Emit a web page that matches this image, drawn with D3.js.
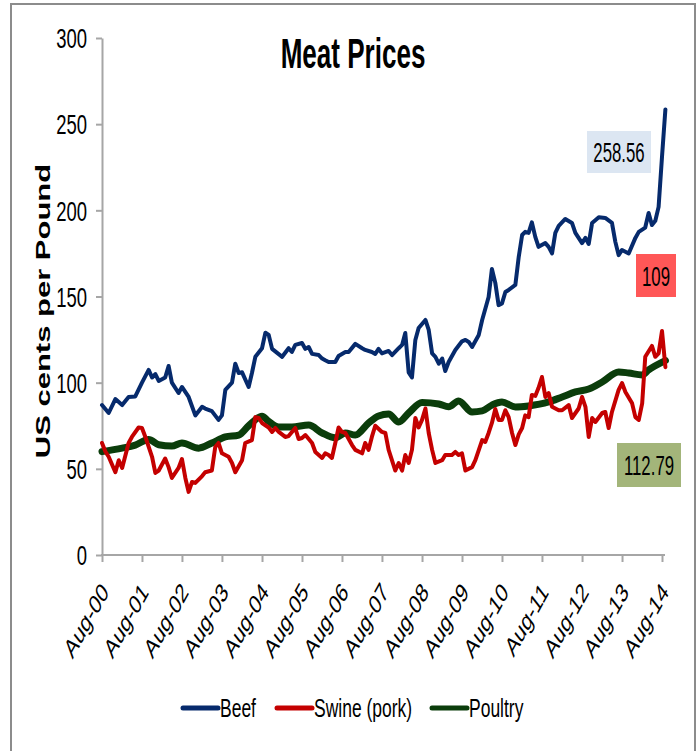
<!DOCTYPE html>
<html>
<head>
<meta charset="utf-8">
<script src="https://cdn.jsdelivr.net/npm/d3@7"></script>
<style>
  body { margin: 0; background: #fff; }
  svg { display: block; }
  text { font-family: "Liberation Sans", Arial, sans-serif; fill: #000; }
</style>
</head>
<body>
<div id="chart"></div>
<script>
// Meat prices, US cents per pound, monthly from Aug-00
// x values are months since Aug 2000
var beefMonth = [0,2,4,6,8,10,12,14,15,16,17,19,20,21,23,24,26,28,30,31,33,35,36,37,39,40,41,42,44,45,
  46,48,49,50,51,54,56,57,58,60,61,62,63,65,66,67,68,70,71,73,74,76,78,79,81,82,83,84,86,87,
  89,90,91,92,93,94,95,97,98,99,100,101,102,103,104,106,108,109,110,111,113,114,116,117,118,119,120,121,122,124,
  125,126,127,128,129,130,131,133,134,135,136,137,139,141,142,144,145,146,147,149,151,153,154,155,156,158,160,161,163,164,
  165,166,167,168,169];
var beefValue = [87,82.4,90.5,87,91.7,92,100,107.4,103,105,101,103,109.7,100,94,97.5,91.7,81,86,85,
  83.5,78.4,81,95.8,100,111,105.6,106,97.5,105.6,115,120,129,127.7,119.6,115,120,117.8,121.9,123,
  119.6,120.7,116.7,116,114,113,112,112,115.5,117.8,117.8,122.5,120,119,117.8,116.7,119.6,117,118.4,116,
  120,121.9,128.8,106,103,124.8,131.7,136.4,130.6,117,115,111,114,106.8,112,119,124,124.8,123.6,120.7,
  127.7,136.4,149.7,166,157.9,145,146,152.6,153.8,156.7,173,185.7,187.5,186.9,193,184.6,178.8,181,178.8,175,
  186.9,191,195,192.7,186.9,181,184,180.5,192.7,196,195.6,192.7,181.7,174,177,175,184,187.5,190,198.5,
  191.5,194,202,231,258.56];

var swineMonth = [0,1,2,4,5,6,8,9,11,12,13,15,16,17,19,20,21,23,24,25,26,27,28,30,31,33,34,35,36,38,
  39,40,42,43,45,46,47,48,50,51,52,53,55,56,58,59,60,61,63,64,66,67,68,69,70,71,72,73,75,76,
  78,79,80,81,82,84,85,86,88,89,90,91,92,93,94,95,96,97,98,99,100,102,103,105,106,107,108,109,111,112,
  114,115,116,117,118,119,120,121,122,123,124,125,126,127,128,129,130,131,132,133,134,135,137,138,140,141,143,144,145,146,
  147,148,150,151,152,153,155,156,157,159,160,161,162,163,165,166,167,168,169];
var swineValue = [65,60,57,48,55,50.5,65,68.5,74,73.7,68.5,57,47.6,49,56,51,44.7,50.5,55.7,44.7,
  36.6,42.4,41.8,45.8,48,49,62.7,65,59,57,53.4,48,55,65,66.7,80,79.5,76.6,74,71.4,
  73.7,71.4,68.5,69,73.7,67.3,67.9,69.6,65,59.8,56.3,59,58,56.3,65,74,71.4,70.8,63.8,61,
  59,65,61,68.5,75,71.4,70.8,61,49,53.4,49,58,53.4,61,79.5,74,78.4,85,70.8,61,
  53.4,55,58,58,59.8,58,59,49,51,55,66.7,65.6,70.8,76.6,84.7,78.4,78.4,84,80,70.8,
  63.8,70,73.7,81,80,92.9,92.3,97,103.3,91.7,94,86,84,84,87,79.5,85,91.7,86,68.5,
  79.5,77.2,82.4,83,73.7,83,95.8,99.8,94.6,88,80,78.4,88,115,121.3,115,117,130,109];

var poultryMonth = [0,6,10,14,17,21,24,29,33,37,41,44,48,50,53,57,62,66,70,73,
  76,80,83,86,89,92,96,101,104,107,111,114,117,120,124,128,134,138,142,146,150,155,158,162,164,169];
var poultryValue = [60,62,63.8,67,64,63.2,65,62,65,68.5,69.6,75,80.5,77.5,74.3,74.3,75.4,70.8,68,70.8,
  69.6,76.6,80.7,81.8,77.2,82.4,88.5,87.6,86,89.4,83,83.6,87,88.8,85.9,86.5,88.8,91.7,94.6,96.3,
  100.4,106.2,105.6,104.5,107.4,112.79];

var seriesNames = ["Beef", "Swine (pork)", "Poultry"];
var seriesColors = ["#062a6c", "#c40000", "#0b3d0b"];
var yTicks = [0, 50, 100, 150, 200, 250, 300];

var svgWidth = 699, svgHeight = 751;
var start = new Date(2000, 7, 1);
var sx = 0.66; // the original picture is squeezed sideways

var svg = d3.select("#chart").append("svg")
  .attr("width", svgWidth)
  .attr("height", svgHeight);

svg.append("rect")
  .attr("x", 11).attr("y", 4)
  .attr("width", 684).attr("height", 770)
  .attr("fill", "#fff")
  .attr("stroke", "#8c8c8c")
  .attr("stroke-width", 2);

var xScale = d3.scaleTime()
  .domain([start, new Date(2014, 7, 1)])
  .range([102, 662]);

var yScale = d3.scaleLinear()
  .domain([0, 300])
  .range([555, 38]);

// axes
var yAxis = d3.axisLeft(yScale).tickValues(yTicks).tickSize(6).tickSizeOuter(0);
var gy = svg.append("g")
  .attr("transform", "translate(102,0)")
  .call(yAxis);
gy.select(".domain").attr("stroke", "#a6a6a6").attr("stroke-width", 2);
gy.selectAll(".tick line").attr("stroke", "#a6a6a6").attr("stroke-width", 2);
gy.selectAll(".tick text")
  .attr("x", 0).attr("dy", "0.35em")
  .attr("font-size", 28)
  .attr("font-family", "Liberation Sans, Arial, sans-serif")
  .attr("transform", `translate(-15,0) scale(${sx},1)`);

var xTicks = d3.range(0, 15).map(function(i) { return new Date(2000 + i, 7, 1); });
var xAxis = d3.axisBottom(xScale).tickValues(xTicks).tickSize(7).tickSizeOuter(0)
  .tickFormat(d3.timeFormat("%b-%y"));
var gx = svg.append("g")
  .attr("transform", "translate(0,555)")
  .call(xAxis);
gx.select(".domain").attr("stroke", "#a6a6a6").attr("stroke-width", 2).attr("d", "M101,0H665");
gx.selectAll(".tick line").attr("stroke", "#a6a6a6").attr("stroke-width", 2);
gx.selectAll(".tick text")
  .attr("x", 0).attr("y", 0).attr("dy", 0)
  .attr("text-anchor", "end")
  .attr("font-size", 27)
  .attr("font-family", "Liberation Sans, Arial, sans-serif")
  .attr("transform", `translate(7,38) scale(${sx},1) rotate(-50)`);

// lines
var line = d3.line()
  .x(function(d) { return xScale(d3.timeMonth.offset(start, d[0])); })
  .y(function(d) { return yScale(d[1]); });

var series = [
  { months: beefMonth, values: beefValue, width: 4, curve: d3.curveLinear },
  { months: swineMonth, values: swineValue, width: 4, curve: d3.curveLinear },
  { months: poultryMonth, values: poultryValue, width: 7, curve: d3.curveMonotoneX }
];
var drawOrder = [2, 1, 0];
drawOrder.forEach(function(i) {
  var s = series[i];
  svg.append("path")
    .datum(s.months.map(function(m, j) { return [m, s.values[j]]; }))
    .attr("fill", "none")
    .attr("stroke", seriesColors[i])
    .attr("stroke-width", s.width)
    .attr("stroke-linejoin", "round")
    .attr("stroke-linecap", "round")
    .attr("d", line.curve(s.curve));
});

// title
svg.append("text")
  .attr("text-anchor", "middle")
  .attr("font-size", 42)
  .attr("font-weight", "bold")
  .attr("transform", "translate(353,68) scale(0.62,1)")
  .text("Meat Prices");

// y axis label
svg.append("text")
  .attr("text-anchor", "middle")
  .attr("font-size", 31)
  .attr("font-weight", "bold")
  .attr("transform", `translate(50,311) scale(${sx},1) rotate(-90)`)
  .text("US cents per Pound");

// last-value boxes
var lastLabels = [
  { value: beefValue[beefValue.length - 1], x: 587, y: 131, w: 64, h: 42, fill: "#dce6f2" },
  { value: swineValue[swineValue.length - 1], x: 636, y: 254, w: 40, h: 43, fill: "#ff5757" },
  { value: poultryValue[poultryValue.length - 1], x: 617, y: 443, w: 64, h: 44, fill: "#a3b57a" }
];
lastLabels.forEach(function(b) {
  svg.append("rect")
    .attr("x", b.x).attr("y", b.y)
    .attr("width", b.w).attr("height", b.h)
    .attr("fill", b.fill);
  svg.append("text")
    .attr("text-anchor", "middle")
    .attr("font-size", 28)
    .attr("transform", `translate(${b.x + b.w / 2},${b.y + b.h / 2 + 10}) scale(0.6,1)`)
    .text(b.value);
});

// legend
var legendX = [183, 277, 432];
seriesNames.forEach(function(name, i) {
  var g = svg.append("g").attr("transform", `translate(${legendX[i]},708)`);
  g.append("line")
    .attr("x1", 0).attr("x2", 35)
    .attr("stroke", seriesColors[i])
    .attr("stroke-width", 5)
    .attr("stroke-linecap", "round");
  g.append("text")
    .attr("font-size", 25)
    .attr("transform", `translate(37,9) scale(0.7,1)`)
    .text(name);
});
</script>
</body>
</html>
